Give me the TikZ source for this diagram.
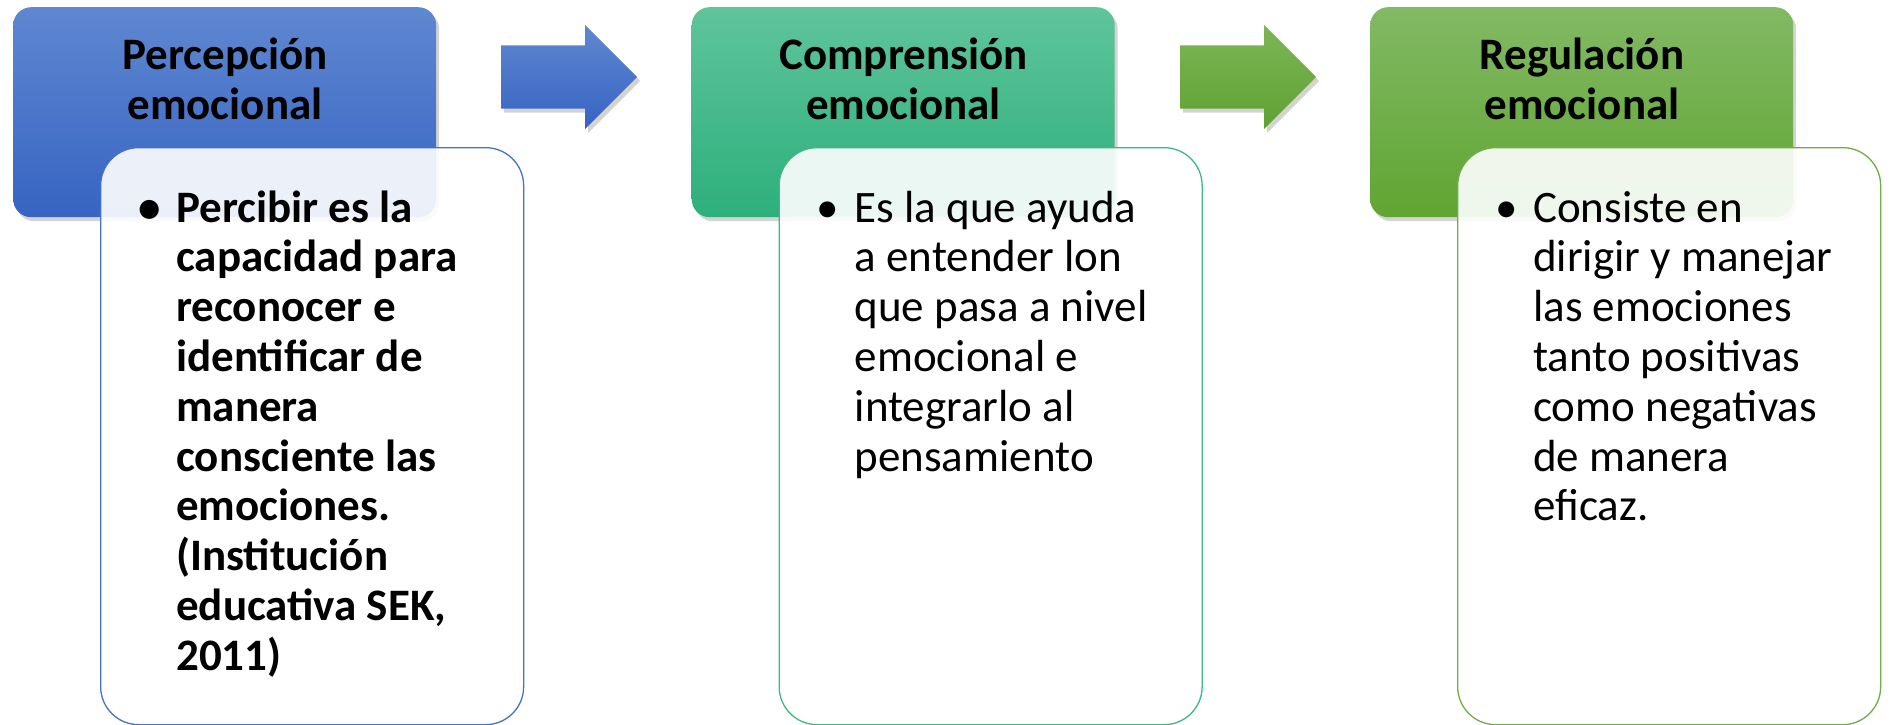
\documentclass[tikz,border=0pt]{standalone}
\usepackage{fontspec}
\setmainfont{Carlito}
\usetikzlibrary{shapes.arrows,shadows}

\definecolor{azulclaro}{HTML}{5F87D1}
\definecolor{azuloscuro}{HTML}{3764C2}
\definecolor{azulborde}{HTML}{4472C4}
\definecolor{aguaclaro}{HTML}{5FC49C}
\definecolor{aguaoscuro}{HTML}{2DAF7B}
\definecolor{aguaborde}{HTML}{3BB885}
\definecolor{verdeclaro}{HTML}{82B964}
\definecolor{verdeoscuro}{HTML}{60A532}
\definecolor{verdeborde}{HTML}{70AD47}
\definecolor{flechaclaro}{HTML}{7DB655}
\definecolor{flechaoscuro}{HTML}{5FA132}

\newcommand{\tamano}{\fontsize{45}{49.8}\selectfont}
\newcommand{\punto}{\makebox[38pt][l]{\textbullet}}

\begin{document}
\begin{tikzpicture}[
  x=1pt, y=-1pt,
  titulo/.style = {shape=rectangle, rounded corners=18pt, minimum width=423pt,
    minimum height=210pt, inner sep=0pt, anchor=north west,
    drop shadow={shadow xshift=3pt, shadow yshift=-4pt, opacity=.35}},
  tarjeta/.style = {shape=rectangle, rounded corners=38pt, minimum width=423pt,
    minimum height=577pt, inner sep=0pt, anchor=north west, fill=white,
    fill opacity=.9, line width=1.3pt},
  flecha/.style = {single arrow, single arrow head extend=20.5pt, inner xsep=0pt,
    inner ysep=31.5pt, minimum height=136pt, minimum width=104pt, anchor=tail,
    drop shadow={shadow xshift=3pt, shadow yshift=-4pt, opacity=.35}},
  texto/.style = {inner sep=0pt, font=\tamano}
  ]
  \useasboundingbox (0,0) rectangle (1892,725);

  % encabezados
  \node[titulo, top color=azulclaro, bottom color=azuloscuro] (perc) at (13,7) {};
  \node[titulo, top color=aguaclaro, bottom color=aguaoscuro] (comp) at (691.5,7) {};
  \node[titulo, top color=verdeclaro, bottom color=verdeoscuro] (regu) at (1370,7) {};

  % flechas
  \node[flecha, top color=azulclaro, bottom color=azuloscuro] (flecha1) at (501,77) {};
  \node[flecha, top color=flechaclaro, bottom color=flechaoscuro] (flecha2) at (1180,77) {};

  % tarjetas
  \node[tarjeta, draw=azulborde] (percbox) at (100,147) {};
  \node[tarjeta, draw=aguaborde] (compbox) at (778.5,147) {};
  \node[tarjeta, draw=verdeborde] (regubox) at (1457,147) {};

  % titulos
  \node[texto, anchor=base, font=\tamano\bfseries] (perctit) at (225,70)
    {\begin{tabular}[t]{@{}c@{}}Percepción\\emocional\end{tabular}};
  \node[texto, anchor=base, font=\tamano\bfseries] (comptit) at (903.5,70)
    {\begin{tabular}[t]{@{}c@{}}Comprensión\\emocional\end{tabular}};
  \node[texto, anchor=base, font=\tamano\bfseries] (regutit) at (1582,70)
    {\begin{tabular}[t]{@{}c@{}}Regulación\\emocional\end{tabular}};

  % textos
  \node[texto, anchor=base west, font=\tamano\bfseries] (perctxt) at (138,222)
    {\begin{tabular}[t]{@{}l@{}l@{}}
      \punto & Percibir es la\\
      & capacidad para\\
      & reconocer e\\
      & identificar de\\
      & manera\\
      & consciente las\\
      & emociones.\\
      & (Institución\\
      & educativa SEK,\\
      & 2011)
    \end{tabular}};
  \node[texto, anchor=base west] (comptxt) at (816.5,222)
    {\begin{tabular}[t]{@{}l@{}l@{}}
      \punto & Es la que ayuda\\
      & a entender lon\\
      & que pasa a nivel\\
      & emocional e\\
      & integrarlo al\\
      & pensamiento
    \end{tabular}};
  \node[texto, anchor=base west] (regutxt) at (1495,222)
    {\begin{tabular}[t]{@{}l@{}l@{}}
      \punto & Consiste en\\
      & dirigir y manejar\\
      & las emociones\\
      & tanto positivas\\
      & como negativas\\
      & de manera\\
      & eficaz.
    \end{tabular}};
\end{tikzpicture}
\end{document}
